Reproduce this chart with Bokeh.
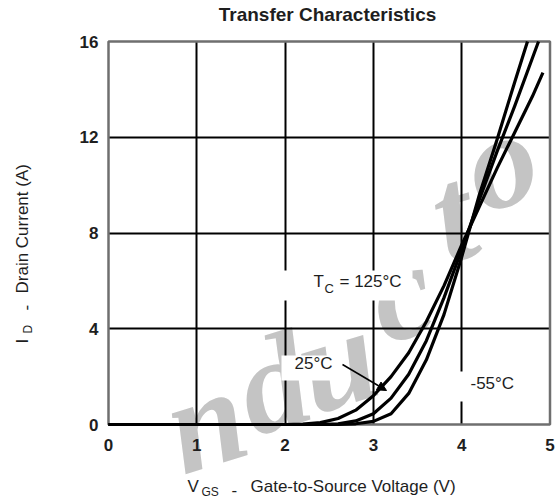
import math
from bokeh.plotting import figure
from bokeh.models import Range1d, FixedTicker, Label, Arrow, NormalHead, BoxAnnotation, Grid
from bokeh.embed import file_html
from bokeh.resources import INLINE

# ---------------- data ----------------
vgs_125 = [0, 2.0, 2.2, 2.4, 2.6, 2.8, 3.0, 3.2, 3.4, 3.6, 3.8, 4.0, 4.2, 4.4, 4.6, 4.8, 4.92]
id_125 = [0, 0, 0.02, 0.08, 0.25, 0.6, 1.2, 2.0, 3.0, 4.3, 5.8, 7.5, 9.1, 10.7, 12.2, 13.7, 14.7]

vgs_25 = [0, 2.4, 2.6, 2.8, 3.0, 3.2, 3.4, 3.6, 3.8, 4.0, 4.2, 4.4, 4.6, 4.8, 4.87]
id_25 = [0, 0, 0.03, 0.15, 0.45, 1.1, 2.1, 3.5, 5.3, 7.3, 9.4, 11.4, 13.3, 15.3, 16.0]

vgs_m55 = [0, 2.6, 2.8, 3.0, 3.2, 3.4, 3.6, 3.8, 4.0, 4.2, 4.4, 4.6, 4.745]
id_m55 = [0, 0, 0.03, 0.13, 0.45, 1.3, 2.7, 4.6, 7.0, 9.6, 11.9, 14.3, 16.0]

x_ticks = [0, 1, 2, 3, 4, 5]
y_ticks = [0, 4, 8, 12, 16]
x_grid = [1, 2, 3, 4]
y_grid = [4, 8, 12]

title_text = "Transfer Characteristics"
watermark_letters = ["n", "d", "u", "c", "t", "o"]

# ---------------- layout (pixel geometry of the reference) ----------------
W, H = 555, 502
PX_L, PX_R = 108.0, 549.5      # pixel of x = first / last tick
PY_B, PY_T = 424.0, 41.0       # pixel of y = first / last tick
FONT = "Liberation Sans"
TXT = "#1e1e1e"

x0, x1 = x_ticks[0], x_ticks[-1]
y0, y1 = y_ticks[0], y_ticks[-1]
ppx = (PX_R - PX_L) / (x1 - x0)
ppy = (PY_B - PY_T) / (y1 - y0)

def dx(rx):
    return x0 + (rx - PX_L) / ppx

def dy(ry):
    return y0 + (PY_B - ry) / ppy

p = figure(width=W, height=H, title=None,
           x_range=Range1d(dx(0), dx(W)), y_range=Range1d(dy(H), dy(0)),
           output_backend="svg", toolbar_location=None, min_border=0)
p.background_fill_color = "white"
p.border_fill_color = "white"
p.outline_line_color = None

# axes (drawn at the plot edges through fixed_location)
p.xaxis.fixed_location = y0
p.yaxis.fixed_location = x0
for ax in (p.xaxis[0], p.yaxis[0]):
    ax.axis_line_color = None
    ax.major_tick_line_color = None
    ax.minor_tick_line_color = None
    ax.major_tick_in = 0
    ax.major_tick_out = 0
    ax.major_label_text_font = FONT
    ax.major_label_text_font_size = "17px"
    ax.major_label_text_font_style = "bold"
    ax.major_label_text_color = TXT
p.xaxis.ticker = FixedTicker(ticks=x_ticks)
p.yaxis.ticker = FixedTicker(ticks=y_ticks)
p.xaxis.major_label_standoff = 14
p.yaxis.major_label_standoff = 10

# grid
GRID_COLOR, GRID_W = "#000000", 2.0
if "cross_bounds" in Grid.properties():
    p.xgrid.ticker = FixedTicker(ticks=x_grid)
    p.ygrid.ticker = FixedTicker(ticks=y_grid)
    p.xgrid.cross_bounds = (y0, y1)
    p.ygrid.cross_bounds = (x0, x1)
    for g in (p.xgrid[0], p.ygrid[0]):
        g.grid_line_color = GRID_COLOR
        g.grid_line_width = GRID_W
else:
    p.xgrid.visible = False
    p.ygrid.visible = False
    p.segment(x0=x_grid, y0=[y0] * len(x_grid), x1=x_grid, y1=[y1] * len(x_grid),
              line_color=GRID_COLOR, line_width=GRID_W)
    p.segment(x0=[x0] * len(y_grid), y0=y_grid, x1=[x1] * len(y_grid), y1=y_grid,
              line_color=GRID_COLOR, line_width=GRID_W)

# watermark (behind everything), kept fully inside the picture
wm_pos = [(205, 420), (272, 383), (336, 360), (400, 292), (452, 214), (500, 160)]
for ch, (rx, ry) in zip(watermark_letters, wm_pos):
    p.add_layout(Label(x=dx(rx), y=dy(ry), text=ch,
                       text_font="Liberation Serif", text_font_style="bold italic",
                       text_font_size="135px", text_color="#c4c4c4",
                       text_align="center", text_baseline="middle",
                       angle=0.3, level="image"))

# white boxes behind the in-plot labels (they interrupt the grid lines)
for (l, r, t, b) in [(280, 412, 270, 300), (281, 340, 355, 380), (456, 526, 371, 401)]:
    p.add_layout(BoxAnnotation(left=dx(l), right=dx(r), top=dy(t), bottom=dy(b),
                               fill_color="white", fill_alpha=1.0, line_color=None,
                               level="guide"))

# plot border
p.quad(left=[x0], right=[x1], bottom=[y0], top=[y1], fill_color=None,
       line_color="#6f6f6f", line_width=2.5)

# curves
for xs, ys in ((vgs_125, id_125), (vgs_25, id_25), (vgs_m55, id_m55)):
    p.line(xs, ys, line_color="black", line_width=3.2, line_join="round", line_cap="butt")

def lab(text, rx, ry, size="17px", style="normal", **kw):
    p.add_layout(Label(x=dx(rx), y=dy(ry), text=text,
                       text_font=FONT, text_font_size=size, text_font_style=style,
                       text_color=TXT, **kw))

# title
lab(title_text, 327, 24, size="19px", style="bold", text_align="center")

# x axis label  V_GS - Gate-to-Source Voltage (V)
lab("V", 187, 495)
lab("GS", 201, 498, size="12px")
lab("-", 231, 495)
lab("Gate-to-Source Voltage (V)", 250, 495)

# y axis label  I_D - Drain Current (A)  (rotated)
rot = math.pi / 2
lab("I", 31, 343, angle=rot)
lab("D", 34, 333, size="12px", angle=rot)
lab("-", 31, 310, angle=rot)
lab("Drain Current (A)", 31, 293, angle=rot)

# curve annotations
lab("T", 313, 290)
lab("C", 324, 295, size="13px")
lab("= 125\u00b0C", 339, 290)
lab("25\u00b0C", 294, 372)
lab("-55\u00b0C", 470, 392)

p.add_layout(Arrow(end=NormalHead(size=9, fill_color="black", line_color="black"),
                   x_start=dx(342), y_start=dy(364), x_end=dx(386), y_end=dy(390),
                   line_color="black", line_width=1.5))

open("out.html", "w").write(file_html(p, INLINE))
